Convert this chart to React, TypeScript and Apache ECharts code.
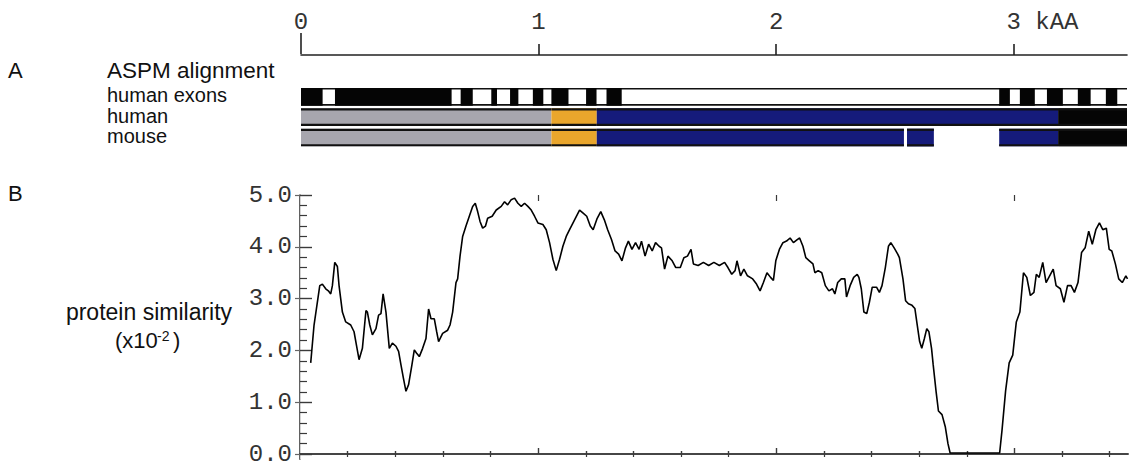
import React, { useEffect, useRef } from 'react';
import * as echarts from 'echarts';

// ---------- data ----------
const TOTAL_KAA = 3.477;
const topTickValues = [0, 1, 2, 3];
const topTickLabels = ['0', '1', '2', '3 kAA'];
const xMinorTicks = [0.2, 0.4, 0.6, 0.8, 1.2, 1.4, 1.6, 1.8, 2.2, 2.4, 2.6, 2.8, 3.2, 3.4];
const xMajorTicks = [1, 2, 3];
const yMajorTicks = [0, 1, 2, 3, 4, 5];
const yMinorTicks = [0.2, 0.4, 0.6, 0.8, 1.2, 1.4, 1.6, 1.8, 2.2, 2.4, 2.6, 2.8, 3.2, 3.4, 3.6, 3.8, 4.2, 4.4, 4.6, 4.8];

const rowLabels = ['human exons', 'human', 'mouse'];

// black exon blocks along the human sequence (kAA)
const exonBlocks: [number, number][] = [
  [0, 0.091], [0.143, 0.634], [0.672, 0.723], [0.801, 0.825], [0.88, 0.915],
  [0.976, 1.02], [1.054, 1.126], [1.2, 1.244], [1.286, 1.35],
  [2.939, 2.984], [3.026, 3.089], [3.14, 3.207], [3.27, 3.324], [3.388, 3.436],
];
// aligned segments [start, end, colour]
const humanSegments: [number, number, string][] = [
  [0, 1.054, 'gray'], [1.054, 1.245, 'orange'], [1.245, 3.187, 'blue'], [3.187, 3.477, 'black'],
];
const mouseSegments: [number, number, string][] = [
  [0, 1.054, 'gray'], [1.054, 1.245, 'orange'], [1.245, 2.538, 'blue'],
  [2.551, 2.664, 'blue'], [2.939, 3.187, 'blue'], [3.187, 3.477, 'black'],
];

// protein similarity (x10^-2) along the alignment (kAA)
const posKAA = [
  0.045, 0.059, 0.083, 0.094, 0.108, 0.119, 0.129, 0.136, 0.146, 0.157, 0.164, 0.178, 0.192, 0.213, 0.227, 0.237,
  0.248, 0.262, 0.277, 0.283, 0.293, 0.304, 0.319, 0.33, 0.34, 0.349, 0.361, 0.375, 0.388, 0.403, 0.414, 0.424,
  0.434, 0.445, 0.456, 0.47, 0.48, 0.489, 0.501, 0.515, 0.529, 0.54, 0.55, 0.564, 0.574, 0.582, 0.599, 0.62,
  0.63, 0.641, 0.655, 0.662, 0.672, 0.683, 0.697, 0.711, 0.725, 0.736, 0.746, 0.756, 0.767, 0.779, 0.788, 0.807,
  0.824, 0.845, 0.859, 0.872, 0.887, 0.901, 0.915, 0.929, 0.943, 0.957, 0.971, 0.985, 0.999, 1.02, 1.034, 1.048,
  1.062, 1.076, 1.09, 1.104, 1.118, 1.132, 1.153, 1.174, 1.189, 1.204, 1.219, 1.231, 1.248, 1.263, 1.278, 1.292,
  1.308, 1.323, 1.338, 1.352, 1.367, 1.379, 1.394, 1.409, 1.424, 1.434, 1.449, 1.464, 1.479, 1.493, 1.508, 1.518,
  1.531, 1.545, 1.563, 1.578, 1.597, 1.612, 1.627, 1.642, 1.652, 1.672, 1.694, 1.716, 1.738, 1.761, 1.783, 1.797,
  1.813, 1.827, 1.835, 1.85, 1.864, 1.879, 1.901, 1.917, 1.932, 1.946, 1.961, 1.976, 1.988, 1.998, 2.013, 2.028,
  2.043, 2.058, 2.072, 2.088, 2.098, 2.112, 2.124, 2.139, 2.154, 2.162, 2.176, 2.191, 2.206, 2.221, 2.236, 2.246,
  2.258, 2.273, 2.288, 2.295, 2.31, 2.325, 2.34, 2.347, 2.357, 2.368, 2.38, 2.391, 2.403, 2.421, 2.433, 2.444,
  2.458, 2.471, 2.481, 2.495, 2.51, 2.517, 2.532, 2.543, 2.555, 2.57, 2.582, 2.592, 2.602, 2.611, 2.622, 2.632,
  2.641, 2.652, 2.659, 2.671, 2.681, 2.696, 2.71, 2.721, 2.73, 2.938, 2.948, 2.963, 2.978, 2.993, 3.008, 3.023,
  3.038, 3.052, 3.067, 3.082, 3.092, 3.104, 3.119, 3.133, 3.148, 3.163, 3.175, 3.193, 3.208, 3.223, 3.238, 3.252,
  3.267, 3.282, 3.297, 3.312, 3.327, 3.342, 3.357, 3.371, 3.386, 3.398, 3.409, 3.424, 3.438, 3.453, 3.468, 3.475,
];
const similarity = [
  1.76, 2.49, 3.25, 3.28, 3.19, 3.15, 3.09, 3.25, 3.7, 3.62, 3.25, 2.74, 2.55, 2.49, 2.36, 2.1,
  1.82, 2.04, 2.77, 2.74, 2.49, 2.3, 2.42, 2.68, 2.71, 3.09, 2.74, 2.04, 2.14, 2.08, 1.98, 1.72,
  1.47, 1.21, 1.34, 1.72, 2.01, 1.95, 1.88, 2.04, 2.23, 2.8, 2.61, 2.61, 2.36, 2.17, 2.33, 2.39,
  2.49, 2.74, 3.31, 3.38, 3.82, 4.2, 4.4, 4.59, 4.78, 4.84, 4.68, 4.49, 4.36, 4.4, 4.55, 4.59,
  4.71, 4.78, 4.87, 4.81, 4.91, 4.94, 4.84, 4.78, 4.84, 4.78, 4.71, 4.59, 4.46, 4.43, 4.33, 4.08,
  3.76, 3.54, 3.76, 4.01, 4.2, 4.33, 4.52, 4.71, 4.65, 4.59, 4.4, 4.33, 4.55, 4.68, 4.52, 4.33,
  4.14, 3.92, 3.86, 3.73, 3.98, 4.11, 3.95, 4.08, 3.95, 4.11, 3.82, 4.05, 3.92, 4.08, 4.01, 3.98,
  3.57, 3.82, 3.73, 3.6, 3.6, 3.79, 3.82, 3.95, 3.67, 3.64, 3.7, 3.64, 3.7, 3.64, 3.7, 3.6,
  3.47, 3.54, 3.73, 3.44, 3.57, 3.44, 3.38, 3.28, 3.15, 3.31, 3.5, 3.41, 3.35, 3.73, 3.95, 4.08,
  4.11, 4.17, 4.08, 4.14, 4.17, 4.01, 3.79, 3.73, 3.67, 3.5, 3.54, 3.5, 3.25, 3.15, 3.19, 3.09,
  3.31, 3.38, 3.38, 3.03, 3.25, 3.41, 3.47, 3.41, 3.19, 2.74, 2.71, 2.93, 3.22, 3.22, 3.12, 3.25,
  3.6, 4.01, 4.08, 3.98, 3.86, 3.79, 3.38, 2.96, 2.9, 2.87, 2.81, 2.49, 2.17, 2.04, 2.23, 2.42,
  2.36, 2.04, 1.72, 1.21, 0.83, 0.76, 0.52, 0.2, 0.02, 0.02, 0.46, 1.22, 1.76, 1.91, 2.55, 2.74,
  3.5, 3.41, 3.06, 3.12, 3.47, 3.41, 3.7, 3.31, 3.44, 3.57, 3.25, 3.19, 2.93, 3.25, 3.25, 3.12,
  3.31, 3.89, 3.98, 4.3, 4.05, 4.33, 4.46, 4.33, 4.36, 3.95, 3.92, 3.67, 3.38, 3.31, 3.44, 3.38,
];

// ---------- styling ----------
const COLORS: Record<string, string> = {
  gray: '#a7a6ae',
  orange: '#eaa62c',
  blue: '#151b7b',
  black: '#050505',
  white: '#ffffff',
};
const MONO = '"Liberation Mono", "DejaVu Sans Mono", monospace';
const SANS = '"Liberation Sans", Arial, Helvetica, sans-serif';
const AXIS_COLOR = '#3a3a3a';

type AlignItem = { s: number; e: number; row: number; color: string; frame: boolean; border: boolean };

function buildAlignItems(): AlignItem[] {
  const items: AlignItem[] = [];
  items.push({ s: 0, e: TOTAL_KAA, row: 0, color: 'white', frame: true, border: true });
  exonBlocks.forEach(([s, e]) => items.push({ s, e, row: 0, color: 'black', frame: false, border: false }));
  humanSegments.forEach(([s, e, c]) => items.push({ s, e, row: 1, color: c, frame: false, border: true }));
  mouseSegments.forEach(([s, e, c]) => items.push({ s, e, row: 2, color: c, frame: false, border: true }));
  return items;
}

export default function App() {
  const ref = useRef<HTMLDivElement>(null);

  useEffect(() => {
    if (!ref.current) return;
    const chart = echarts.init(ref.current, null, { renderer: 'svg' });
    const alignItems = buildAlignItems();

    const option: any = {
      animation: false,
      backgroundColor: '#ffffff',
      grid: [
        { left: 301, right: 5, top: 54, height: 1 },
        { left: 301, right: 5, top: 87, height: 61 },
        { left: 300, right: 4, top: 195, bottom: 4 },
      ],
      xAxis: [
        {
          gridIndex: 0, type: 'value', position: 'top', min: 0, max: TOTAL_KAA,
          axisLine: { show: true, lineStyle: { color: '#222', width: 1.6 } },
          axisTick: { show: true, customValues: xMajorTicks, length: 11, lineStyle: { color: '#222', width: 1.6 } },
          axisLabel: {
            show: true, customValues: topTickValues, margin: 20,
            fontFamily: MONO, fontSize: 24, color: '#333',
            formatter: (v: number) => {
              const idx = topTickValues.indexOf(Math.round(v));
              const t = topTickLabels[idx] ?? String(v);
              return t.length > 1 ? `{pad|}{n|${t}}` : `{n|${t}}`;
            },
            rich: {
              n: { fontFamily: MONO, fontSize: 24, color: '#333' },
              pad: { width: 4 * 0.6 * 24 },
            },
          },
          splitLine: { show: false },
        },
        {
          gridIndex: 0, type: 'value', position: 'top', min: 0, max: TOTAL_KAA,
          axisLine: { show: false },
          axisTick: { show: true, customValues: [0], length: 21, lineStyle: { color: '#222', width: 1.6 } },
          axisLabel: { show: false },
          splitLine: { show: false },
        },
        {
          gridIndex: 1, type: 'value', min: 0, max: TOTAL_KAA, show: false,
        },
        {
          gridIndex: 2, type: 'value', position: 'bottom', min: 0, max: TOTAL_KAA,
          axisLine: { show: true, lineStyle: { color: AXIS_COLOR, width: 1.6 } },
          axisTick: { show: true, inside: true, customValues: xMinorTicks, length: 3, lineStyle: { color: AXIS_COLOR, width: 1.4 } },
          axisLabel: { show: false },
          splitLine: { show: false },
        },
        {
          gridIndex: 2, type: 'value', position: 'bottom', min: 0, max: TOTAL_KAA,
          axisLine: { show: false },
          axisTick: { show: true, inside: true, customValues: xMajorTicks, length: 6, lineStyle: { color: AXIS_COLOR, width: 1.4 } },
          axisLabel: { show: false },
          splitLine: { show: false },
        },
        {
          gridIndex: 2, type: 'value', position: 'top', min: 0, max: TOTAL_KAA,
          axisLine: { show: true, lineStyle: { color: AXIS_COLOR, width: 1.6 } },
          axisTick: { show: true, inside: true, customValues: xMinorTicks, length: 3, lineStyle: { color: AXIS_COLOR, width: 1.2 } },
          axisLabel: { show: false },
          splitLine: { show: false },
        },
        {
          gridIndex: 2, type: 'value', position: 'top', min: 0, max: TOTAL_KAA,
          axisLine: { show: false },
          axisTick: { show: true, inside: true, customValues: xMajorTicks, length: 6, lineStyle: { color: AXIS_COLOR, width: 1.2 } },
          axisLabel: { show: false },
          splitLine: { show: false },
        },
      ],
      yAxis: [
        { gridIndex: 0, type: 'value', min: 0, max: 1, show: false },
        { gridIndex: 1, type: 'category', data: rowLabels, inverse: true, show: false },
        {
          gridIndex: 2, type: 'value', position: 'left', min: -0.1, max: 5,
          axisLine: { show: true, lineStyle: { color: AXIS_COLOR, width: 1.6 } },
          axisTick: { show: true, inside: true, customValues: yMajorTicks, length: 12, lineStyle: { color: AXIS_COLOR, width: 1.4 } },
          axisLabel: {
            show: true, customValues: yMajorTicks, margin: 8,
            fontFamily: MONO, fontSize: 24, color: '#333',
            formatter: (v: number) => v.toFixed(1),
          },
          splitLine: { show: false },
        },
        {
          gridIndex: 2, type: 'value', position: 'left', min: -0.1, max: 5,
          axisLine: { show: false },
          axisTick: { show: true, inside: true, customValues: yMinorTicks, length: 7, lineStyle: { color: AXIS_COLOR, width: 1.2 } },
          axisLabel: { show: false },
          splitLine: { show: false },
        },
        {
          gridIndex: 2, type: 'value', position: 'right', min: -0.1, max: 5,
          axisLine: { show: true, lineStyle: { color: '#d4d4d4', width: 1 } },
          axisTick: { show: true, inside: true, customValues: yMajorTicks, length: 5, lineStyle: { color: '#666', width: 1.2 } },
          axisLabel: { show: false },
          splitLine: { show: false },
        },
      ],
      series: [
        {
          type: 'custom',
          xAxisIndex: 2,
          yAxisIndex: 1,
          clip: false,
          data: alignItems.map((it) => [it.s, it.e, it.row]),
          renderItem: (params: any, api: any) => {
            const it = alignItems[params.dataIndex];
            const p0 = api.coord([api.value(0), api.value(2)]);
            const p1 = api.coord([api.value(1), api.value(2)]);
            const band = api.size([0, 1])[1];
            const top = p0[1] - band / 2 + band * 0.05;
            const h = band * 0.87;
            const w = p1[0] - p0[0];
            const children: any[] = [
              {
                type: 'rect',
                shape: { x: p0[0], y: top, width: w, height: h },
                style: { fill: COLORS[it.color], stroke: null },
              },
            ];
            if (it.border) {
              const lw = it.frame ? 1.6 : 2.2;
              children.push(
                {
                  type: 'line',
                  shape: { x1: p0[0], y1: top + lw / 2, x2: p1[0], y2: top + lw / 2 },
                  style: { stroke: '#111', lineWidth: lw },
                },
                {
                  type: 'line',
                  shape: { x1: p0[0], y1: top + h - lw / 2, x2: p1[0], y2: top + h - lw / 2 },
                  style: { stroke: '#111', lineWidth: lw },
                },
              );
            }
            return { type: 'group', children };
          },
        },
        {
          type: 'line',
          xAxisIndex: 3,
          yAxisIndex: 2,
          data: posKAA.map((x, i) => [x, similarity[i]]),
          showSymbol: false,
          symbol: 'none',
          lineStyle: { color: '#000', width: 1.6 },
          clip: true,
        },
      ],
      graphic: [
        { type: 'text', x: 8, y: 70.5, style: { text: 'A', font: `22px ${SANS}`, fill: '#111', textVerticalAlign: 'middle' } },
        { type: 'text', x: 107, y: 70.5, style: { text: 'ASPM alignment', font: `22.5px ${SANS}`, fill: '#111', textVerticalAlign: 'middle' } },
        { type: 'text', x: 107, y: 94.5, style: { text: rowLabels[0], font: `20px ${SANS}`, fill: '#111', textVerticalAlign: 'middle' } },
        { type: 'text', x: 107, y: 115.5, style: { text: rowLabels[1], font: `20px ${SANS}`, fill: '#111', textVerticalAlign: 'middle' } },
        { type: 'text', x: 107, y: 135.5, style: { text: rowLabels[2], font: `20px ${SANS}`, fill: '#111', textVerticalAlign: 'middle' } },
        { type: 'text', x: 8, y: 193.5, style: { text: 'B', font: `22px ${SANS}`, fill: '#111', textVerticalAlign: 'middle' } },
        { type: 'text', x: 149, y: 311.5, style: { text: 'protein similarity', font: `23px ${SANS}`, fill: '#111', textAlign: 'center', textVerticalAlign: 'middle' } },
        { type: 'text', x: 115, y: 340, style: { text: '(x10', font: `22px ${SANS}`, fill: '#111', textVerticalAlign: 'middle' } },
        { type: 'text', x: 157, y: 336, style: { text: '-2', font: `14px ${SANS}`, fill: '#111', textVerticalAlign: 'middle' } },
        { type: 'text', x: 173, y: 340, style: { text: ')', font: `22px ${SANS}`, fill: '#111', textVerticalAlign: 'middle' } },
      ],
    };

    chart.setOption(option);
    return () => chart.dispose();
  }, []);

  return (
    <div
      ref={ref}
      style={{ position: 'absolute', left: 0, top: 0, width: 1132, height: 466, background: '#fff' }}
    />
  );
}
